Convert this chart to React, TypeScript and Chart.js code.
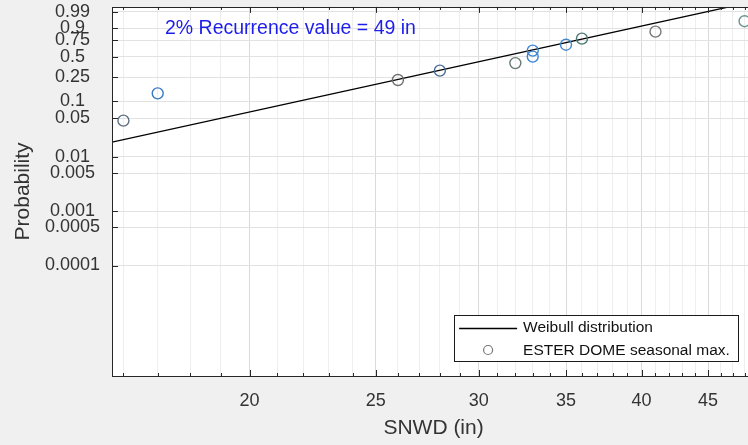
import React, { useEffect, useRef } from 'react';
import { Chart, registerables, Scale } from 'chart.js';

// ---------------- data ----------------
const snwd = [16, 17, 26, 28, 32, 33, 33, 35, 36, 41, 48];
const probability = [0.045, 0.136, 0.227, 0.318, 0.409, 0.5, 0.591, 0.682, 0.773, 0.864, 0.955];
const markerColors = ['#5f6f82', '#3a78c8', '#6e7070', '#4a6c94', '#6a7a72', '#3a86d4', '#3a86d4', '#3f88cc', '#4a7872', '#787878', '#6a948c'];
const fitX = [15.68, 48.9];
const fitP = [0.0183, 0.99929];
const probTicks = [0.0001, 0.0005, 0.001, 0.005, 0.01, 0.05, 0.1, 0.25, 0.5, 0.75, 0.9, 0.99];
const xTickValues = [16, 17, 18, 19, 20, 21, 22, 23, 24, 25, 26, 27, 28, 29, 30, 31, 32, 33, 34, 35, 36, 37, 38, 39, 40, 41, 42, 43, 44, 45, 46, 47, 48];
const xTickLabels = ['20', '25', '30', '35', '40', '45'];
const xMin = 15.68;
const xMax = 48.9;
const pMin = 9.3e-7;
const pMax = 0.9966;
const annotationText = '2% Recurrence value = 49 in';
const legendLabels = ['Weibull distribution', 'ESTER DOME seasonal max.'];

const FONT = "'Liberation Sans', Arial, Helvetica, sans-serif";
const AXIS_COLOR = '#262626';

// Weibull probability transform
const tf = (p: number) => Math.log10(-Math.log(1 - p));

class WeibullScale extends Scale {
  static id = 'weibull';
  static defaults = {};
  determineDataLimits() {
    const o: any = this.options;
    this.min = o.min;
    this.max = o.max;
  }
  buildTicks() {
    return probTicks.map((v) => ({ value: v }));
  }
  getLabelForValue(v: number) {
    return String(v);
  }
  getPixelForValue(v: number) {
    const a = tf(this.min);
    const b = tf(this.max);
    return this.getPixelForDecimal((tf(v) - a) / (b - a));
  }
  getValueForPixel(px: number) {
    const a = tf(this.min);
    const b = tf(this.max);
    const t = a + this.getDecimalForPixel(px) * (b - a);
    return 1 - Math.exp(-Math.pow(10, t));
  }
}

Chart.register(...registerables, WeibullScale as any);

const isMajorX = (v: number) => xTickLabels.includes(String(v));

const backgroundPlugin = {
  id: 'bgPlugin',
  beforeDraw(chart: any) {
    const { ctx, chartArea: ca } = chart;
    ctx.save();
    ctx.fillStyle = '#f0f0f0';
    ctx.fillRect(0, 0, chart.width, chart.height);
    ctx.fillStyle = '#ffffff';
    ctx.fillRect(ca.left, ca.top, ca.right - ca.left, ca.bottom - ca.top);
    ctx.restore();
  },
};

const framePlugin = {
  id: 'framePlugin',
  afterDraw(chart: any) {
    const { ctx, chartArea: ca } = chart;
    const xs = chart.scales.x;
    const ys = chart.scales.y;
    ctx.save();
    // box
    ctx.strokeStyle = AXIS_COLOR;
    ctx.lineWidth = 1;
    ctx.strokeRect(Math.round(ca.left) + 0.5, Math.round(ca.top) + 0.5, Math.round(ca.right - ca.left), Math.round(ca.bottom - ca.top));
    // x ticks (bottom & top, inward)
    ctx.beginPath();
    xs.ticks.forEach((t: any) => {
      const px = Math.round(xs.getPixelForValue(t.value)) + 0.5;
      const len = isMajorX(t.value) ? 6 : 3;
      ctx.moveTo(px, ca.bottom);
      ctx.lineTo(px, ca.bottom - len);
      ctx.moveTo(px, ca.top);
      ctx.lineTo(px, ca.top + len);
    });
    ys.ticks.forEach((t: any) => {
      const py = Math.round(ys.getPixelForValue(t.value)) + 0.5;
      ctx.moveTo(ca.left, py);
      ctx.lineTo(ca.left + 6, py);
      ctx.moveTo(ca.right, py);
      ctx.lineTo(ca.right - 6, py);
    });
    ctx.stroke();

    // annotation
    ctx.fillStyle = 'rgb(30,30,235)';
    ctx.font = `19.5px ${FONT}`;
    ctx.textBaseline = 'alphabetic';
    ctx.textAlign = 'left';
    ctx.fillText(annotationText, ca.left + 53, ca.top + 27);

    // legend
    const lw = 284;
    const lh = 46;
    const lx = ca.right - 17 - lw;
    const ly = ca.bottom - 15 - lh;
    ctx.fillStyle = '#ffffff';
    ctx.fillRect(lx, ly, lw, lh);
    ctx.strokeStyle = '#1a1a1a';
    ctx.lineWidth = 1;
    ctx.strokeRect(Math.round(lx) + 0.5, Math.round(ly) + 0.5, lw, lh);
    const lineDs = chart.data.datasets[1];
    const ptDs = chart.data.datasets[0];
    ctx.strokeStyle = lineDs.borderColor;
    ctx.lineWidth = lineDs.borderWidth;
    ctx.beginPath();
    ctx.moveTo(lx + 5, ly + 13.5);
    ctx.lineTo(lx + 63, ly + 13.5);
    ctx.stroke();
    ctx.strokeStyle = '#777777';
    ctx.lineWidth = 1.2;
    ctx.beginPath();
    ctx.arc(lx + 34, ly + 35, 4.5, 0, Math.PI * 2);
    ctx.stroke();
    ctx.fillStyle = '#111111';
    ctx.font = `15.5px ${FONT}`;
    ctx.textBaseline = 'middle';
    ctx.fillText(lineDs.label, lx + 69, ly + 13);
    ctx.fillText(ptDs.label, lx + 69, ly + 36);
    ctx.restore();
  },
};

export default function App() {
  const ref = useRef<HTMLCanvasElement | null>(null);
  useEffect(() => {
    if (!ref.current) return;
    const chart = new Chart(ref.current, {
      type: 'scatter',
      data: {
        datasets: [
          {
            label: legendLabels[1],
            data: snwd.map((x, i) => ({ x, y: probability[i] })),
            pointRadius: 5.5,
            pointBorderWidth: 1.4,
            pointBackgroundColor: 'rgba(0,0,0,0)',
            pointBorderColor: markerColors,
            showLine: false,
            order: 0,
          },
          {
            label: legendLabels[0],
            data: fitX.map((x, i) => ({ x, y: fitP[i] })),
            showLine: true,
            borderColor: '#000000',
            borderWidth: 1.3,
            pointRadius: 0,
            order: 1,
          } as any,
        ],
      },
      options: {
        responsive: false,
        animation: false,
        events: [],
        layout: { padding: { left: 0, right: 2, top: 5, bottom: 0 } },
        plugins: { legend: { display: false }, tooltip: { enabled: false } },
        scales: {
          x: {
            type: 'logarithmic',
            min: xMin,
            max: xMax,
            afterBuildTicks: (s: any) => {
              s.ticks = xTickValues.map((v) => ({ value: v }));
            },
            afterFit: (s: any) => {
              s.height = 69;
              s.paddingLeft = 0;
              s.paddingRight = 0;
            },
            border: { display: false },
            grid: {
              drawTicks: false,
              color: (c: any) => (c.tick && isMajorX(c.tick.value) ? '#dadada' : '#eeeeee'),
              lineWidth: 1,
            },
            ticks: {
              autoSkip: false,
              maxRotation: 0,
              padding: 14,
              color: '#333333',
              font: { family: FONT, size: 18 },
              callback: (v: any) => (isMajorX(Number(v)) ? String(v) : ''),
            },
            title: {
              display: true,
              text: 'SNWD (in)',
              color: '#333333',
              font: { family: FONT, size: 21 },
              padding: { top: 0, bottom: 4 },
            },
          },
          y: {
            type: 'weibull' as any,
            min: pMin,
            max: pMax,
            afterFit: (s: any) => {
              s.width = 112;
              s.paddingTop = 0;
              s.paddingBottom = 0;
            },
            border: { display: false },
            grid: { drawTicks: false, color: '#e2e2e2', lineWidth: 1 },
            ticks: {
              crossAlign: 'center',
              padding: 12,
              color: '#333333',
              font: { family: FONT, size: 18 },
              callback: (v: any) => String(v),
            },
            title: {
              display: true,
              text: 'Probability',
              color: '#333333',
              font: { family: FONT, size: 21 },
              padding: { top: 11, bottom: 0 },
            },
          } as any,
        },
      },
      plugins: [backgroundPlugin, framePlugin],
    } as any);
    return () => chart.destroy();
  }, []);
  return (
    <div style={{ position: 'fixed', left: 0, top: 0, width: 748, height: 445, overflow: 'hidden', background: '#f0f0f0' }}>
      <canvas ref={ref} width={762} height={445} style={{ display: 'block' }} />
    </div>
  );
}
